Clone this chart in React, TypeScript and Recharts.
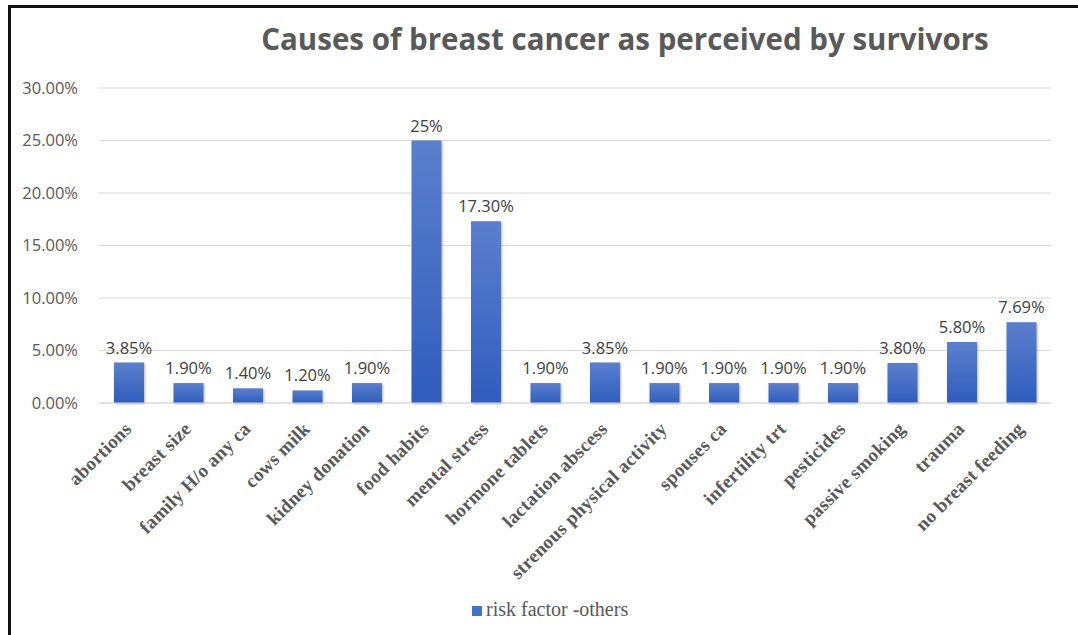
import React from 'react'
import { BarChart, Bar, XAxis, YAxis, CartesianGrid, LabelList } from 'recharts'

const causes = [
  'abortions',
  'breast size',
  'family H/o any ca',
  'cows milk',
  'kidney donation',
  'food habits',
  'mental stress',
  'hormone tablets',
  'lactation abscess',
  'strenous physical activity',
  'spouses ca',
  'infertility trt',
  'pesticides',
  'passive smoking',
  'trauma',
  'no breast feeding',
]

// percentage of survivors naming each cause
const shares = [3.85, 1.9, 1.4, 1.2, 1.9, 25, 17.3, 1.9, 3.85, 1.9, 1.9, 1.9, 1.9, 3.8, 5.8, 7.69]

const shareLabels = [
  '3.85%', '1.90%', '1.40%', '1.20%', '1.90%', '25%', '17.30%', '1.90%',
  '3.85%', '1.90%', '1.90%', '1.90%', '1.90%', '3.80%', '5.80%', '7.69%',
]

const yTicks = [0, 5, 10, 15, 20, 25, 30]

const seriesName = 'risk factor -others'

const data = causes.map((cause, i) => ({
  cause,
  share: shares[i],
  label: shareLabels[i],
}))

const SANS = '"Open Sans", "Liberation Sans", sans-serif'
const SERIF = '"Liberation Serif", "Times New Roman", serif'

const CauseTick = (props: any) => {
  const { x, y, payload } = props
  const ax = x + 4
  const ay = y + 19
  return (
    <text
      x={ax}
      y={ay}
      transform={`rotate(-45, ${ax}, ${ay})`}
      textAnchor="end"
      fontFamily={SERIF}
      fontWeight="bold"
      fontSize={19}
      letterSpacing={0.3}
      fill="#595959"
    >
      {payload.value}
    </text>
  )
}

export default function App() {
  return (
    <div
      style={{
        position: 'fixed',
        left: 0,
        top: 0,
        width: 1078,
        height: 635,
        background: '#fff',
        fontFamily: SANS,
      }}
    >
      {/* frame: only the top and left edges are drawn */}
      <div
        style={{
          position: 'absolute',
          left: 8,
          top: 5,
          width: 1070,
          height: 630,
          borderLeft: '3px solid #111',
          borderTop: '3px solid #111',
          boxSizing: 'border-box',
        }}
      />
      <div
        style={{
          position: 'absolute',
          left: 225,
          width: 800,
          top: 18,
          textAlign: 'center',
          fontSize: 29.5,
          fontWeight: 'bold',
          color: '#595959',
          whiteSpace: 'nowrap',
        }}
      >
        Causes of breast cancer as perceived by survivors
      </div>

      <div style={{ position: 'absolute', left: 0, top: 0 }}>
        <BarChart
          width={1078}
          height={635}
          data={data}
          margin={{ top: 88, right: 27, bottom: 82, left: 0 }}
        >
          <defs>
            <linearGradient id="barFill" x1="0" y1="0" x2="0" y2="1">
              <stop offset="0%" stopColor="#5b7fcd" />
              <stop offset="100%" stopColor="#2f5dbd" />
            </linearGradient>
            <filter id="barShadow" x="-20%" y="-20%" width="140%" height="140%">
              <feDropShadow dx="1" dy="1" stdDeviation="1.2" floodColor="#000" floodOpacity="0.3" />
            </filter>
          </defs>
          <CartesianGrid vertical={false} stroke="#d9d9d9" strokeWidth={1} />
          <XAxis
            dataKey="cause"
            interval={0}
            height={150}
            tick={<CauseTick />}
            tickLine={false}
            axisLine={{ stroke: '#d9d9d9' }}
          />
          <YAxis
            width={99}
            domain={[0, 30]}
            ticks={yTicks}
            tickFormatter={(v: number) => `${v.toFixed(2)}%`}
            tick={{ fill: '#595959', fontSize: 16.5, fontFamily: SANS }}
            tickMargin={15}
            axisLine={false}
            tickLine={false}
          />
          <Bar
            dataKey="share"
            name={seriesName}
            fill="url(#barFill)"
            barSize={30}
            filter="url(#barShadow)"
            isAnimationActive={false}
          >
            <LabelList
              dataKey="label"
              position="top"
              offset={9}
              fill="#404040"
              fontSize={16.5}
              fontFamily={SANS}
            />
          </Bar>
        </BarChart>
      </div>

      {/* legend */}
      <div
        style={{
          position: 'absolute',
          left: 472,
          top: 598,
          display: 'flex',
          alignItems: 'center',
          fontFamily: SERIF,
          fontSize: 20,
          color: '#595959',
        }}
      >
        <span
          style={{
            display: 'inline-block',
            width: 10,
            height: 10,
            background: '#4472c4',
            marginRight: 4,
            marginTop: 2,
          }}
        />
        {seriesName}
      </div>
    </div>
  )
}
